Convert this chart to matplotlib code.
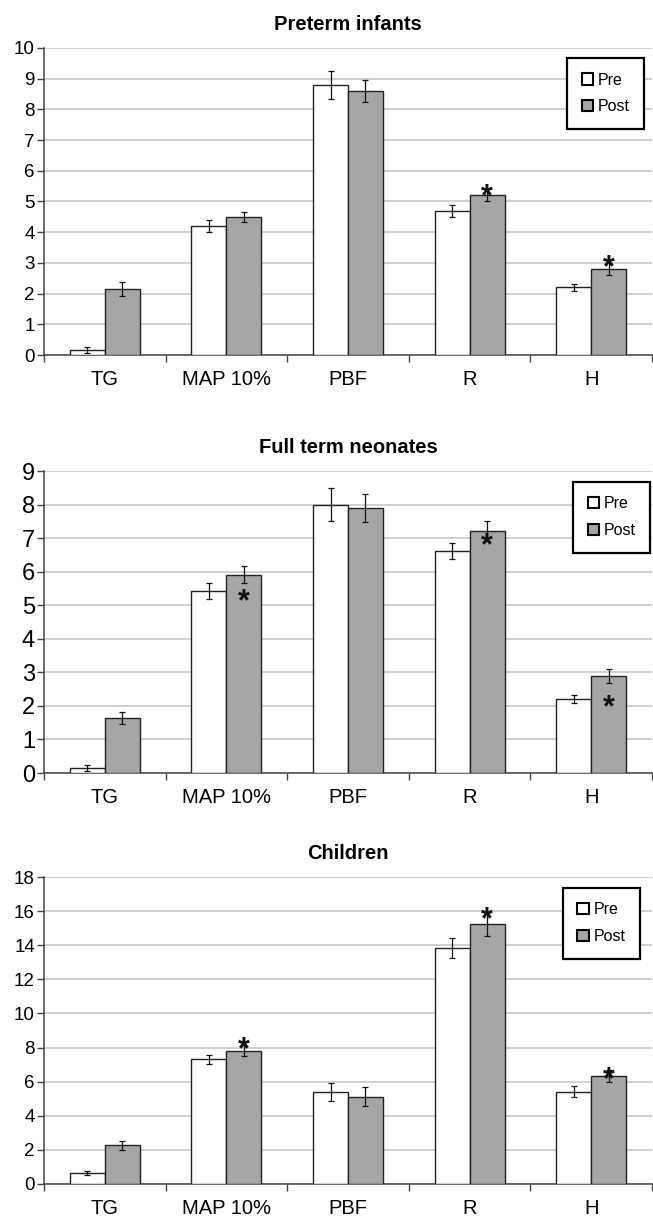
import numpy as np
import matplotlib.pyplot as plt

plt.rcParams['font.family'] = ['Liberation Sans', 'DejaVu Sans']

categories = ['TG', 'MAP 10%', 'PBF', 'R', 'H']
titles = ['Preterm infants', 'Full term neonates', 'Children']

# Preterm infants
pre_preterm = [0.16, 4.2, 8.8, 4.7, 2.2]
pre_preterm_err = [0.09, 0.2, 0.45, 0.2, 0.1]
post_preterm = [2.16, 4.5, 8.6, 5.2, 2.8]
post_preterm_err = [0.23, 0.17, 0.35, 0.2, 0.2]
star_preterm = [None, None, None, 5.43, 3.12]

# Full term neonates
pre_neonates = [0.15, 5.42, 8.0, 6.61, 2.2]
pre_neonates_err = [0.08, 0.23, 0.48, 0.24, 0.12]
post_neonates = [1.64, 5.91, 7.9, 7.21, 2.89]
post_neonates_err = [0.18, 0.26, 0.41, 0.3, 0.2]
star_neonates = [None, 5.37, None, 7.03, 2.2]

# Children
pre_children = [0.64, 7.31, 5.42, 13.84, 5.42]
pre_children_err = [0.1, 0.28, 0.53, 0.57, 0.34]
post_children = [2.26, 7.82, 5.13, 15.22, 6.34]
post_children_err = [0.24, 0.33, 0.55, 0.65, 0.34]
star_children = [None, 8.4, None, 16.04, 6.65]

y_max = [10, 9, 18]
y_step = [1, 1, 2]

W, H = 653, 1222
fig = plt.figure(figsize=(W / 100, H / 100), dpi=100)

# axes boxes in pixels: (top, bottom)
boxes = [(48, 355), (471, 773), (877, 1184)]
legend_anchor = [(0.987, 0.967), (0.997, 0.964), (0.980, 0.964)]
ytick_size = [13.5, 17, 13.5]

panels = [
    (pre_preterm, pre_preterm_err, post_preterm, post_preterm_err, star_preterm),
    (pre_neonates, pre_neonates_err, post_neonates, post_neonates_err, star_neonates),
    (pre_children, pre_children_err, post_children, post_children_err, star_children),
]

x = np.arange(len(categories)) + 0.5
w = 0.2875
left, right = 44, 652

for i, (pre, pre_err, post, post_err, stars) in enumerate(panels):
    top, bottom = boxes[i]
    ax = fig.add_axes([left / W, (H - bottom) / H, (right - left) / W, (bottom - top) / H])

    ax.bar(x - w / 2, pre, w, color='white', edgecolor='#222222', linewidth=1.0,
           label='Pre', zorder=3)
    ax.bar(x + w / 2, post, w, color='#a6a6a6', edgecolor='#222222', linewidth=1.0,
           label='Post', zorder=3)
    ax.errorbar(x - w / 2, pre, yerr=pre_err, fmt='none', ecolor='#111111',
                elinewidth=0.9, capsize=2.2, capthick=0.9, zorder=4)
    ax.errorbar(x + w / 2, post, yerr=post_err, fmt='none', ecolor='#111111',
                elinewidth=0.9, capsize=2.2, capthick=0.9, zorder=4)

    for xi, s in zip(x, stars):
        if s is not None:
            ax.annotate('*', (xi + w / 2, s), xytext=(0, -12.5), textcoords='offset points',
                        ha='center', va='baseline', fontsize=22, fontweight='bold',
                        color='#111111', zorder=5)

    ax.set_xlim(0, len(categories))
    ax.set_ylim(0, y_max[i])
    ax.set_yticks(np.arange(0, y_max[i] + 0.1, y_step[i]))
    ax.yaxis.grid(True, color='#c4c4c4', linewidth=1.1, zorder=0)
    ax.set_axisbelow(True)

    ax.set_xticks(np.arange(len(categories) + 1))
    ax.set_xticklabels([])
    ax.set_xticks(x, minor=True)
    ax.set_xticklabels(categories, minor=True)
    ax.tick_params(axis='x', which='major', length=5, width=1, color='#444444', direction='out')
    ax.tick_params(axis='x', which='minor', length=0, pad=11, labelsize=14.5)
    ax.tick_params(axis='y', length=5, width=1, color='#444444', pad=1.5,
                   labelsize=ytick_size[i])

    for side in ['top', 'right']:
        ax.spines[side].set_visible(False)
    for side in ['left', 'bottom']:
        ax.spines[side].set_color('#444444')
        ax.spines[side].set_linewidth(1.1)

    ax.set_title(titles[i], fontsize=14.5, fontweight='bold', pad=13)

    leg = ax.legend(loc='upper right', bbox_to_anchor=legend_anchor[i], borderaxespad=0,
                    fancybox=False, framealpha=1, edgecolor='black', fontsize=11.5,
                    handlelength=0.7, handleheight=0.7, handletextpad=0.3,
                    labelspacing=0.75, borderpad=0.9)
    leg.get_frame().set_linewidth(1.6)
    for patch in leg.get_patches():
        patch.set_edgecolor('black')
        patch.set_linewidth(1.5)
    leg.set_zorder(6)

fig.savefig('out.png', dpi=100)
